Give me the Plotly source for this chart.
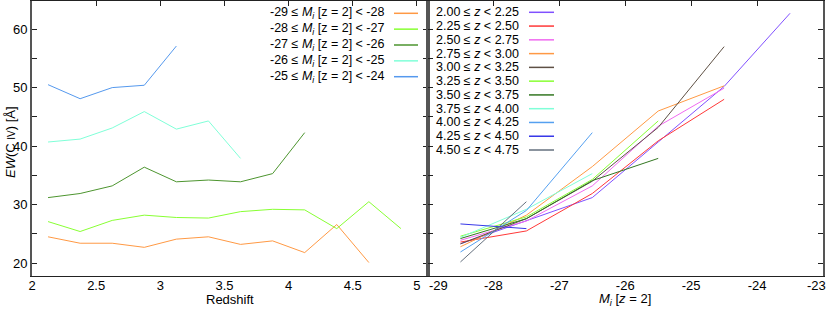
import plotly.graph_objects as go

# ---------------- data ----------------
z_centers = [2.125, 2.375, 2.625, 2.875, 3.125, 3.375, 3.625, 3.875, 4.125, 4.375, 4.625, 4.875]
mi_labels = ["-29 ≤ <i>M</i><sub><i>i</i></sub> [z = 2] &lt; -28",
             "-28 ≤ <i>M</i><sub><i>i</i></sub> [z = 2] &lt; -27",
             "-27 ≤ <i>M</i><sub><i>i</i></sub> [z = 2] &lt; -26",
             "-26 ≤ <i>M</i><sub><i>i</i></sub> [z = 2] &lt; -25",
             "-25 ≤ <i>M</i><sub><i>i</i></sub> [z = 2] &lt; -24"]
ew_m29 = [24.5, 23.4, 23.4, 22.7, 24.1, 24.5, 23.2, 23.8, 21.8, 26.6, 20.1]
ew_m28 = [27.1, 25.4, 27.3, 28.2, 27.8, 27.7, 28.8, 29.2, 29.1, 25.9, 30.5, 25.9]
ew_m27 = [31.2, 31.9, 33.2, 36.4, 33.9, 34.2, 33.9, 35.3, 42.3]
ew_m26 = [40.7, 41.2, 43.1, 45.9, 42.9, 44.3, 37.9]
ew_m25 = [50.5, 48.1, 50.0, 50.4, 57.1]
left_series = [ew_m29, ew_m28, ew_m27, ew_m26, ew_m25]
left_colors = ["#FF9944", "#88FF33", "#4D952F", "#80FFD8", "#5599EE"]

mi_centers = [-28.5, -27.5, -26.5, -25.5, -24.5, -23.5]
z_labels = ["2.00 ≤ <i>z</i> &lt; 2.25", "2.25 ≤ <i>z</i> &lt; 2.50", "2.50 ≤ <i>z</i> &lt; 2.75",
            "2.75 ≤ <i>z</i> &lt; 3.00", "3.00 ≤ <i>z</i> &lt; 3.25", "3.25 ≤ <i>z</i> &lt; 3.50",
            "3.50 ≤ <i>z</i> &lt; 3.75", "3.75 ≤ <i>z</i> &lt; 4.00", "4.00 ≤ <i>z</i> &lt; 4.25",
            "4.25 ≤ <i>z</i> &lt; 4.50", "4.50 ≤ <i>z</i> &lt; 4.75"]
ew_z200 = [23.3, 27.2, 31.2, 40.7, 50.2, 62.7]
ew_z225 = [23.6, 25.5, 31.9, 40.9, 48.0]
ew_z250 = [23.9, 27.2, 33.2, 43.4, 49.9]
ew_z275 = [22.8, 28.2, 36.5, 46.0, 50.3]
ew_z300 = [23.3, 27.6, 34.0, 43.2, 57.0]
ew_z325 = [24.6, 27.9, 34.3, 44.3]
ew_z350 = [24.2, 27.6, 34.1, 37.9]
ew_z375 = [24.4, 29.2, 35.3]
ew_z400 = [21.9, 29.0, 42.3]
ew_z425 = [26.7, 25.9]
ew_z450 = [20.2, 30.5]
right_series = [ew_z200, ew_z225, ew_z250, ew_z275, ew_z300, ew_z325,
                ew_z350, ew_z375, ew_z400, ew_z425, ew_z450]
right_colors = ["#8050FF", "#FF3838", "#F06AF0", "#FF9944", "#5E5044", "#88FF33",
                "#337722", "#80FFD8", "#55A0F0", "#3838E8", "#65707E"]

y_ticks = [20, 25, 30, 35, 40, 45, 50, 55, 60]
y_ticktext = ["20", "", "30", "", "40", "", "50", "", "60"]
z_ticks = [2, 2.5, 3, 3.5, 4, 4.5, 5]
z_ticktext = ["2", "2.5", "3", "3.5", "4", "4.5", "5"]
mi_ticks = [-29, -28, -27, -26, -25, -24, -23]
mi_ticktext = ["\u00a0" * 6 + "-29", "-28", "-27", "-26", "-25", "-24", ""]
mi_last_label = "-23"

# ---------------- layout geometry ----------------
W, H = 830, 311
ML, MR, MT, MB = 32, 7, 1, 35
PW, PH = W - ML - MR, H - MT - MB


def px_x(px):
    return (px - ML) / PW


def px_y(py):
    return 1 - (py - MT) / PH


FONT = "Liberation Sans, Arial, sans-serif"

fig = go.Figure()

for ys, col in zip(left_series, left_colors):
    fig.add_trace(go.Scatter(x=z_centers[:len(ys)], y=ys, mode="lines",
                             line=dict(color=col, width=1), xaxis="x", yaxis="y",
                             showlegend=False, hoverinfo="skip"))
for ys, col in zip(right_series, right_colors):
    fig.add_trace(go.Scatter(x=mi_centers[:len(ys)], y=ys, mode="lines",
                             line=dict(color=col, width=1), xaxis="x2", yaxis="y2",
                             showlegend=False, hoverinfo="skip"))
# invisible carriers for top tick axes
fig.add_trace(go.Scatter(x=[], y=[], xaxis="x3", yaxis="y", showlegend=False))
fig.add_trace(go.Scatter(x=[], y=[], xaxis="x4", yaxis="y2", showlegend=False))

yr = [17.8, 64.8]
common_line = dict(showline=True, showgrid=False, zeroline=False)
fig.update_layout(
    width=W, height=H, margin=dict(l=ML, r=MR, t=MT, b=MB), autosize=False,
    paper_bgcolor="white", plot_bgcolor="white",
    font=dict(family=FONT, size=13, color="black"),
    xaxis=dict(domain=[0, 0.5], range=[2, 5.082], tickvals=z_ticks, ticktext=z_ticktext,
               ticks="", mirror=True, linecolor="#222", linewidth=1.3, anchor="y",
               ticklabelstandoff=-3, **common_line),
    xaxis3=dict(domain=[0, 0.5], overlaying="x", matches="x", side="top", anchor="y",
                tickvals=z_ticks, ticks="inside", ticklen=5, tickcolor="#222",
                showticklabels=False, showline=False, showgrid=False, zeroline=False),
    xaxis2=dict(domain=[0.5, 1], range=[-29, -23], tickvals=mi_ticks, ticktext=mi_ticktext,
                ticks="", mirror=True, linecolor="#222", linewidth=1.3, anchor="y2",
                ticklabelstandoff=-3, **common_line),
    xaxis4=dict(domain=[0.5, 1], overlaying="x2", matches="x2", side="top", anchor="y2",
                tickvals=mi_ticks, ticks="inside", ticklen=5, tickcolor="#222",
                showticklabels=False, showline=False, showgrid=False, zeroline=False),
    yaxis=dict(domain=[0, 1], range=yr, tickvals=y_ticks, ticktext=y_ticktext,
               ticks="inside", ticklen=5, tickcolor="#222", mirror="ticks",
               linecolor="#555", linewidth=2, anchor="x", **common_line),
    yaxis2=dict(domain=[0, 1], range=yr, tickvals=y_ticks, showticklabels=False,
                ticks="inside", ticklen=5, tickcolor="#222", mirror="ticks",
                linecolor="#555", linewidth=2, anchor="x2", **common_line),
)

annotations = []
shapes = []
# left legend
for k, (lab, col) in enumerate(zip(mi_labels, left_colors)):
    py = 13.3 + k * 15.85
    annotations.append(dict(x=px_x(386), y=px_y(py), xref="paper", yref="paper",
                            text=lab, showarrow=False, xanchor="right", yanchor="middle",
                            font=dict(size=12.5, family=FONT)))
    shapes.append(dict(type="line", xref="paper", yref="paper",
                       x0=px_x(394), x1=px_x(418), y0=px_y(py), y1=px_y(py),
                       line=dict(color=col, width=1.5)))
# right legend
for k, (lab, col) in enumerate(zip(z_labels, right_colors)):
    py = 12.3 + k * 13.77
    annotations.append(dict(x=px_x(434), y=px_y(py), xref="paper", yref="paper",
                            text=lab, showarrow=False, xanchor="left", yanchor="middle",
                            font=dict(size=12.5, family=FONT)))
    shapes.append(dict(type="line", xref="paper", yref="paper",
                       x0=px_x(529), x1=px_x(554), y0=px_y(py), y1=px_y(py),
                       line=dict(color=col, width=1.5)))
# last tick label of right axis (nudged inside the figure)
annotations.append(dict(x=px_x(828), y=px_y(285), xref="paper", yref="paper",
                        text=mi_last_label, showarrow=False, xanchor="right", yanchor="middle",
                        font=dict(size=13, family=FONT)))
# axis titles
annotations.append(dict(x=px_x(230), y=px_y(300), xref="paper", yref="paper",
                        text="Redshift", showarrow=False, xanchor="center", yanchor="middle",
                        font=dict(size=13, family=FONT)))
annotations.append(dict(x=px_x(625), y=px_y(300), xref="paper", yref="paper",
                        text="<i>M</i><sub><i>i</i></sub> [<i>z</i> = 2]", showarrow=False,
                        xanchor="center", yanchor="middle", font=dict(size=13, family=FONT)))
annotations.append(dict(x=px_x(10), y=px_y(142), xref="paper", yref="paper",
                        text="<i>EW</i>(C\u00a0<span style='font-size:10px'>IV</span>)\u00a0[Å]",
                        showarrow=False, textangle=-90, xanchor="center", yanchor="middle",
                        font=dict(size=13, family=FONT)))

fig.update_layout(annotations=annotations, shapes=shapes)
fig.write_html("out.html", config={"displayModeBar": False, "responsive": False},
               post_script="document.body.style.margin='0';document.body.style.padding='0';"
                           "document.body.style.overflow='hidden';")
